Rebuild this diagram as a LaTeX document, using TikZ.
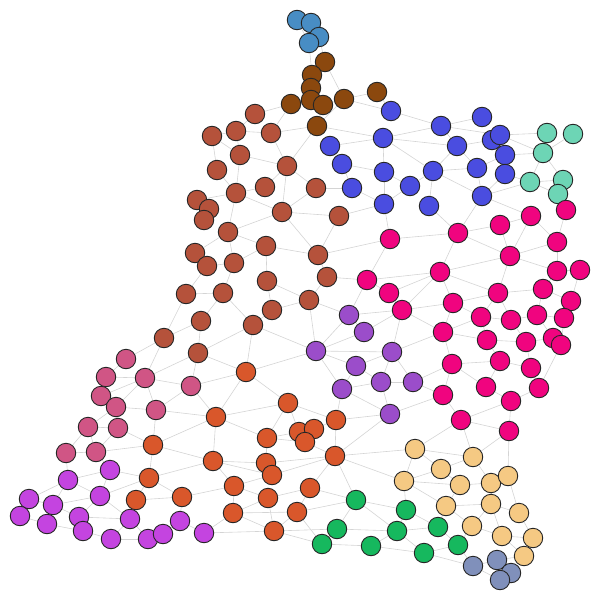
\documentclass[tikz,border=0pt]{standalone}
\pgfdeclarelayer{bg}
\pgfsetlayers{bg,main}
\definecolor{cL}{RGB}{72,141,196}
\definecolor{cB}{RGB}{139,72,14}
\definecolor{cU}{RGB}{74,77,224}
\definecolor{cT}{RGB}{109,213,181}
\definecolor{cS}{RGB}{181,82,59}
\definecolor{cP}{RGB}{208,85,133}
\definecolor{cO}{RGB}{217,87,43}
\definecolor{cQ}{RGB}{155,77,202}
\definecolor{cM}{RGB}{240,4,127}
\definecolor{cW}{RGB}{245,201,131}
\definecolor{cG}{RGB}{22,184,94}
\definecolor{cN}{RGB}{128,144,187}
\definecolor{cV}{RGB}{196,68,224}
\definecolor{edgegray}{RGB}{212,212,212}
\begin{document}
\begin{tikzpicture}[x=1pt,y=-1pt,
  nd/.style={circle,draw=black!85,line width=0.9pt,minimum size=19.5pt,inner sep=0pt},
  lnk/.style={draw=edgegray,line width=0.6pt}]
\useasboundingbox (0,0) rectangle (600,600);
% light blue
\foreach \n/\x/\y in {L1/297/20,L2/311/23,L3/319/37,L4/309/43}
  \node[nd,fill=cL] (\n) at (\x,\y) {};
% brown
\foreach \n/\x/\y in {B1/325/62,B2/312/75,B3/311/88,B4/311/100,B5/323/105,B6/291/104,B7/344/99,B8/377/92,B9/317/126}
  \node[nd,fill=cB] (\n) at (\x,\y) {};
% blue
\foreach \n/\x/\y in {U1/391/111,U2/383/138,U3/330/146,U4/342/164,U5/384/172,U6/352/188,U7/384/204,U8/410/186,U9/433/171,U10/429/206,U11/441/126,U12/457/146,U13/482/117,U14/492/140,U15/500/135,U16/505/155,U17/505/174,U18/477/168,U19/482/196}
  \node[nd,fill=cU] (\n) at (\x,\y) {};
% teal
\foreach \n/\x/\y in {T1/547/133,T2/573/134,T3/543/153,T4/530/182,T5/563/180,T6/558/194}
  \node[nd,fill=cT] (\n) at (\x,\y) {};
% sienna
\foreach \n/\x/\y in {S1/255/114,S2/236/131,S3/271/133,S4/212/136,S5/240/155,S6/287/166,S7/217/170,S8/265/187,S9/236/193,S10/316/188,S11/197/200,S12/209/209,S13/204/220,S14/282/212,S15/339/216,S16/228/232,S17/266/246,S18/318/255,S19/195/253,S20/207/266,S21/234/263,S22/267/281,S23/327/277,S24/186/294,S25/223/293,S26/309/300,S27/272/310,S28/201/321,S29/253/325,S30/164/338,S31/198/353}
  \node[nd,fill=cS] (\n) at (\x,\y) {};
% pink
\foreach \n/\x/\y in {P1/126/359,P2/106/377,P3/145/378,P4/191/386,P5/101/396,P6/116/407,P7/156/410,P8/88/427,P9/118/428,P10/96/452,P11/66/453}
  \node[nd,fill=cP] (\n) at (\x,\y) {};
% orange
\foreach \n/\x/\y in {O1/246/372,O2/288/403,O3/216/417,O4/336/420,O5/153/445,O6/267/438,O7/299/432,O8/314/429,O9/305/442,O10/335/456,O11/213/461,O12/266/463,O13/272/475,O14/149/478,O15/182/497,O16/234/486,O17/268/498,O18/310/488,O19/136/500,O20/233/513,O21/297/512,O22/274/531}
  \node[nd,fill=cO] (\n) at (\x,\y) {};
% purple
\foreach \n/\x/\y in {Q1/349/315,Q2/364/332,Q3/316/351,Q4/392/352,Q5/356/366,Q6/381/382,Q7/342/389,Q8/413/382,Q9/390/414}
  \node[nd,fill=cQ] (\n) at (\x,\y) {};
% magenta
\foreach \n/\x/\y in {M1/390/239,M2/458/233,M3/500/225,M4/531/216,M5/566/210,M6/557/242,M7/510/256,M8/440/272,M9/557/271,M10/580/270,M11/367/280,M12/389/293,M13/402/310,M14/453/303,M15/498/293,M16/543/289,M17/571/301,M18/481/317,M19/511/320,M20/537/315,M21/564/318,M22/443/332,M23/487/340,M24/526/342,M25/553/338,M26/561/345,M27/452/364,M28/500/361,M29/531/368,M30/486/387,M31/539/388,M32/443/395,M33/511/401,M34/461/420,M35/509/431}
  \node[nd,fill=cM] (\n) at (\x,\y) {};
% wheat
\foreach \n/\x/\y in {W1/415/449,W2/473/457,W3/441/469,W4/404/481,W5/460/485,W6/491/483,W7/508/476,W8/446/506,W9/491/504,W10/519/513,W11/472/526,W12/502/536,W13/533/538,W14/524/556}
  \node[nd,fill=cW] (\n) at (\x,\y) {};
% green
\foreach \n/\x/\y in {G1/356/500,G2/406/510,G3/337/529,G4/397/531,G5/438/527,G6/322/544,G7/371/546,G8/424/553,G9/458/545}
  \node[nd,fill=cG] (\n) at (\x,\y) {};
% slate
\foreach \n/\x/\y in {N1/473/566,N2/497/560,N3/511/573,N4/500/580}
  \node[nd,fill=cN] (\n) at (\x,\y) {};
% violet
\foreach \n/\x/\y in {V1/110/470,V2/68/480,V3/100/496,V4/29/499,V5/53/505,V6/20/516,V7/79/517,V8/47/524,V9/83/531,V10/130/519,V11/111/539,V12/148/539,V13/163/534,V14/180/521,V15/204/533}
  \node[nd,fill=cV] (\n) at (\x,\y) {};
\begin{pgfonlayer}{bg}
\foreach \a/\b in {L1/L2,L2/L3,L3/L4,L1/L4,L4/B2,L3/B1,
  B1/B2,B2/B3,B3/B4,B4/B5,B4/B6,B1/B7,B5/B7,B7/B8,B7/B9,B5/B9,B6/S1,B6/S3,B7/U1,B8/U1,B9/S3,B9/S6,B9/U2,
  U1/U11,U2/U11,U2/U12,U2/U9,U2/U3,U2/U5,U3/U4,U4/U5,U4/U6,U5/U7,U6/U7,U6/S10,U5/U8,U8/U9,U8/U7,U9/U12,U9/U18,U9/U10,U9/U19,
  U11/U13,U11/U12,U11/U15,U12/U14,U12/U18,U14/U16,U15/T1,U15/T3,U16/T3,U16/U17,U16/U18,U17/T4,U17/U19,U18/U19,
  U10/M2,U19/M2,U19/M4,U7/M1,U7/S15,
  T1/T3,T2/T3,T3/T4,T3/T5,T4/T5,T5/T6,T4/T6,T4/U19,
  S1/S2,S2/S4,S2/S3,S2/S5,S3/S6,S4/S5,S5/S6,S5/S9,S6/S8,S6/S10,S6/S14,S9/S8,S9/S11,S9/S14,S9/S16,S7/S9,S7/S4,
  S11/S12,S12/S13,S14/S16,S14/S15,S14/S18,S16/S17,S16/S19,S16/S21,S15/S18,S18/M1,S17/S18,S17/S22,S17/S21,
  S21/S20,S21/S25,S22/S27,S22/S26,S23/M11,S18/S23,S26/Q1,S26/Q3,S26/S27,S23/S26,S25/S29,S25/S28,S25/S24,
  S27/S29,S29/O1,S29/Q3,S31/S29,S19/S20,S20/S24,S24/S30,S30/S28,S28/S31,S30/P1,S30/P3,S31/O1,S31/P4,S31/P3,S10/S14,
  P1/P2,P2/P3,P3/P4,P3/P5,P3/P6,P3/P7,P4/P7,P4/O3,P4/O1,P5/P6,P6/P7,P6/P8,P6/P9,P8/P9,P8/P11,P8/P10,P9/P10,P9/O5,
  P10/O5,P10/V1,P11/V2,P11/P10,P7/O3,P7/O5,P2/P5,
  O1/O2,O1/O3,O1/Q3,O2/O6,O2/O4,O2/O7,O2/O3,O3/O6,O3/O11,O3/O5,O4/O10,O4/O8,O4/Q9,O4/Q7,O6/O7,O6/O12,O7/O8,O8/O9,
  O9/O10,O10/Q9,O10/W4,O10/O12,O10/O13,O10/O18,O10/G1,O10/W1,O11/O12,O11/O16,O11/O13,O12/O13,O13/O16,O16/O17,O16/O20,
  O17/O18,O17/O22,O17/O20,O18/O21,O18/G1,O20/O21,O20/O22,O21/O22,O21/G1,O21/G6,O22/G3,O22/G6,O5/O14,O5/O11,O14/O19,
  O14/O15,O14/O11,O19/O15,O15/O16,V15/O22,V15/O20,O6/O9,
  Q1/Q2,Q1/Q3,Q1/M11,Q1/M13,Q2/Q3,Q2/M13,Q3/Q4,Q3/Q5,Q3/Q7,Q4/Q5,Q4/Q6,Q4/Q8,Q4/M13,Q4/M22,Q5/Q6,Q5/Q7,Q6/Q7,
  Q6/Q8,Q6/Q9,Q7/Q9,Q8/M27,Q8/M32,Q9/M32,
  M1/M11,M1/M2,M2/M3,M2/M7,M2/M8,M3/M4,M3/M7,M4/M7,M5/M6,M4/M6,M6/M7,M6/M9,M7/M9,M7/M15,M7/M8,M9/M10,M9/M16,
  M10/M17,M8/M14,M8/M15,M8/M12,M8/M11,M8/M13,M11/M12,M12/M13,M13/M14,M13/M22,M14/M15,M14/M22,M14/M18,M15/M16,
  M15/M18,M15/M19,M16/M17,M16/M20,M17/M21,M18/M19,M18/M23,M18/M22,M19/M20,M19/M24,M20/M21,M20/M25,M21/M26,
  M22/M23,M22/M27,M23/M24,M23/M28,M24/M25,M24/M29,M25/M26,M26/M31,M27/M28,M27/M30,M27/M32,M28/M29,M28/M30,
  M29/M31,M30/M33,M31/M33,M32/M34,M33/M34,M33/M35,M34/M35,M34/W2,M34/W1,M35/W2,M35/W7,M5/T6,
  W1/W2,W1/W4,W1/W3,W2/W3,W2/W6,W3/W4,W3/W5,W4/W5,W4/W8,W4/G2,W5/W6,W5/W8,W6/W7,W6/W9,W7/W10,W8/W9,W8/G5,W8/W11,
  W9/W10,W9/W11,W9/W12,W10/W13,W11/W12,W11/G9,W12/W13,W12/W14,W13/W14,W14/N2,
  G1/G2,G1/G3,G1/G4,G2/G5,G2/G4,G4/G5,G4/G8,G3/G6,G3/G4,G6/G7,G7/G4,G7/G8,G5/G9,G9/G8,G9/N1,G8/N1,
  N1/N2,N2/N3,N2/N4,N3/N4,N1/N4,
  V1/V2,V1/O14,V1/V3,V2/V3,V2/V4,V2/V5,V3/V5,V3/V10,V3/O14,V3/V7,V4/V6,V4/V5,V5/V7,V5/V8,V6/V8,V8/V9,V7/V9,V7/V10,
  V9/V11,V10/V11,V10/V12,V10/O19,V12/V13,V11/V12,V13/V14,V14/V15,V14/O15}
  \draw[lnk] (\a) -- (\b);
\end{pgfonlayer}
\end{tikzpicture}
\end{document}
